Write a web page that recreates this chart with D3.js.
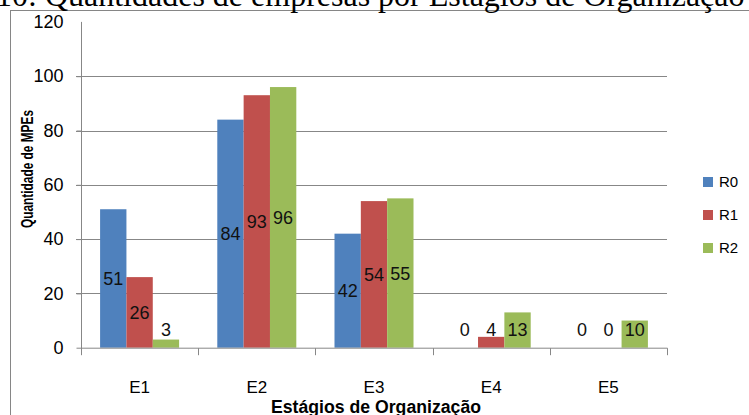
<!DOCTYPE html>
<html>
<head>
<meta charset="utf-8">
<script src="https://cdn.jsdelivr.net/npm/d3@7"></script>
<style>
html,body{margin:0;padding:0;background:#fff;overflow:hidden;}
svg{display:block;}
</style>
</head>
<body>
<svg id="chart" width="749" height="415"></svg>
<script>
const categories = ["E1","E2","E3","E4","E5"];
const seriesNames = ["R0","R1","R2"];
const R0 = [51,84,42,0,0];
const R1 = [26,93,54,4,0];
const R2 = [3,96,55,13,10];
const yTicks = [0,20,40,60,80,100,120];
const colors = ["#4F81BD","#C0504D","#9BBB59"];
const titleText = "10: Quantidades de empresas por Estágios de Organização";
const yTitle = "Quantidade de MPEs";
const xTitle = "Estágios de Organização";

(function(){
const seriesValues = [R0,R1,R2];
const svg = d3.select("#chart");
const font = "'Liberation Sans', Arial, sans-serif";

const pLeft = 81, pRight = 667, pTop = 21.9, pBottom = 347.7;

// border
svg.append("rect").attr("x",10.5).attr("y",10.5).attr("width",760).attr("height",420)
  .attr("fill","none").attr("stroke","#868686").attr("stroke-width",1);

// title (clipped at top)
svg.append("text").attr("x",-4).attr("y",6)
  .attr("font-family","'Liberation Serif','Times New Roman',serif")
  .attr("font-size",32).attr("fill","#000").text(titleText);

const x0 = d3.scaleBand().domain(categories).range([pLeft,pRight]).padding(0);
const x1 = d3.scaleBand().domain(seriesNames).range([0,x0.bandwidth()]).paddingInner(0).paddingOuter(0.725);
const y = d3.scaleLinear().domain([0,120]).range([pBottom,pTop]);

// gridlines
svg.append("g").selectAll("line").data(yTicks.filter(t=>t>0 && t<120)).join("line")
  .attr("x1",pLeft-5).attr("x2",pRight)
  .attr("y1",d=>Math.round(y(d))+0.5).attr("y2",d=>Math.round(y(d))+0.5)
  .attr("stroke","#878787").attr("stroke-width",1);

// y axis
const yAxis = d3.axisLeft(y).tickValues(yTicks).tickSize(5).tickPadding(13);
const gy = svg.append("g").attr("transform",`translate(${pLeft+0.5},0)`).call(yAxis);
gy.select(".domain").attr("stroke","#878787").attr("d",`M0,${pTop}V${pBottom+7}`);
gy.selectAll(".tick line").attr("stroke","#878787").attr("opacity",d=>d===120?0:1);
gy.selectAll(".tick text").attr("font-family",font).attr("font-size",18).attr("fill","#000");

// bars
const groups = svg.append("g").selectAll("g").data(seriesNames).join("g")
  .attr("fill",(d,i)=>colors[i]);
groups.selectAll("rect").data((s,si)=>categories.map((c,ci)=>({s,c,v:seriesValues[si][ci]}))).join("rect")
  .attr("x",d=>x0(d.c)+x1(d.s)).attr("width",x1.bandwidth())
  .attr("y",d=>y(d.v)).attr("height",d=>pBottom-y(d.v));

// x axis
const gx = svg.append("g").attr("transform",`translate(0,${pBottom+0.5})`);
gx.append("line").attr("x1",pLeft).attr("x2",pRight+0.5).attr("y1",0).attr("y2",0).attr("stroke","#878787");
const bounds = categories.map(c=>x0(c)).concat([pRight]);
gx.selectAll("line.tk").data(bounds).join("line").attr("class","tk")
  .attr("x1",d=>Math.round(d)+0.5).attr("x2",d=>Math.round(d)+0.5).attr("y1",0).attr("y2",7)
  .attr("stroke","#878787");
gx.selectAll("text").data(categories).join("text")
  .attr("x",d=>x0(d)+x0.bandwidth()/2).attr("y",45)
  .attr("text-anchor","middle").attr("font-family",font).attr("font-size",17).attr("fill","#000")
  .text(d=>d);

// data labels
const labels = [];
seriesNames.forEach((s,si)=>categories.forEach((c,ci)=>{
  labels.push({s,c,v:seriesValues[si][ci]});
}));
svg.append("g").selectAll("text").data(labels).join("text")
  .attr("x",d=>x0(d.c)+x1(d.s)+x1.bandwidth()/2)
  .attr("y",d=>Math.min((y(d.v)+pBottom)/2, pBottom-18))
  .attr("dy","0.36em")
  .attr("text-anchor","middle").attr("font-family",font).attr("font-size",18).attr("fill","#111")
  .text(d=>d.v);

// axis titles
svg.append("text").attr("transform",`translate(32.5,169) rotate(-90)`)
  .attr("text-anchor","middle").attr("font-family",font).attr("font-weight","bold")
  .attr("font-size",16).attr("textLength",118).attr("lengthAdjust","spacingAndGlyphs")
  .attr("fill","#000").text(yTitle);
svg.append("text").attr("x",376).attr("y",413)
  .attr("text-anchor","middle").attr("font-family",font).attr("font-weight","bold")
  .attr("font-size",18).attr("textLength",210).attr("lengthAdjust","spacingAndGlyphs")
  .attr("fill","#000").text(xTitle);

// legend
const lg = svg.append("g").selectAll("g").data(seriesNames).join("g")
  .attr("transform",(d,i)=>`translate(703,${182+i*33})`);
lg.append("rect").attr("x",0).attr("y",-5).attr("width",10).attr("height",10).attr("fill",(d,i)=>colors[i]);
lg.append("text").attr("x",16).attr("y",0).attr("dy","0.36em")
  .attr("font-family",font).attr("font-size",15).attr("fill","#000").text(d=>d);
})();
</script>
</body>
</html>
